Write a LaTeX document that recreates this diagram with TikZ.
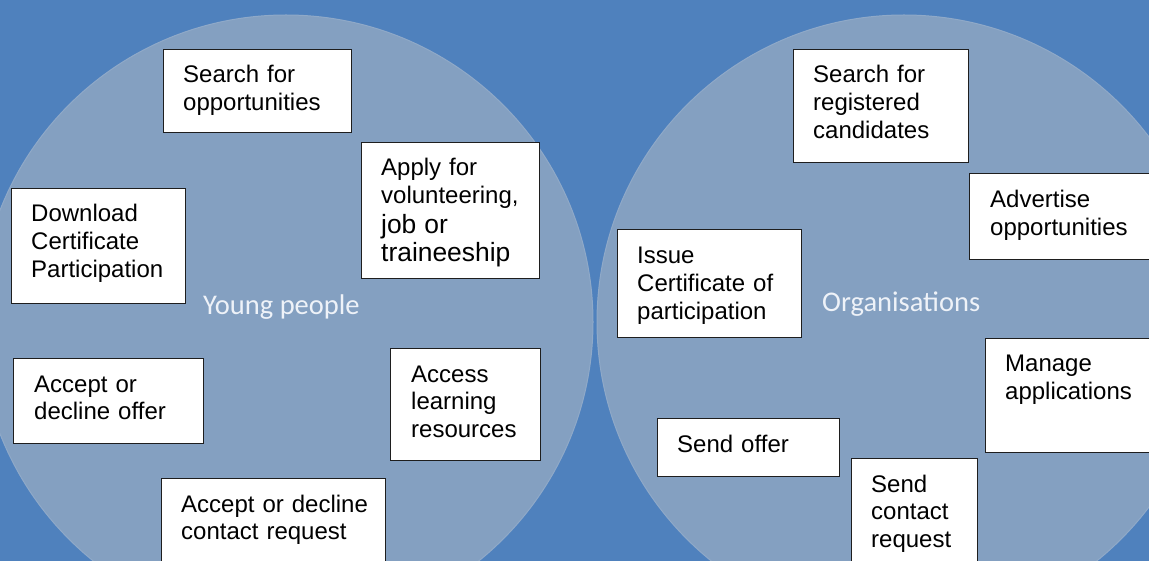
\documentclass[tikz,border=0pt]{standalone}
\usepackage{fontspec}
\setmainfont{Liberation Sans}
\newfontfamily\labelfont{Carlito}
\usetikzlibrary{calc}

\definecolor{bgblue}{HTML}{4F81BD}
\definecolor{discfill}{HTML}{84A0C1}
\definecolor{discedge}{HTML}{8FA9C8}
\definecolor{boxline}{HTML}{1E1E1E}
\definecolor{labeltext}{HTML}{EEF2F8}

\begin{document}
\begin{tikzpicture}[x=1pt,y=-1pt,
  taskbox/.style={draw=boxline, line width=1.1pt, fill=white,
    anchor=north west, inner sep=0pt},
  tasktext/.style={anchor=base west, inner sep=0pt, text width=240pt,
    align=left, text=black, font=\fontsize{24}{27.6}\selectfont},
  setlabel/.style={anchor=base west, inner sep=0pt, text=labeltext,
    font=\labelfont\fontsize{28.5}{32}\selectfont},
  setdisc/.style={fill=discfill, draw=discedge, line width=1pt}]

% page frame and background
\useasboundingbox (0,0) rectangle (1149,561);
\clip (0,0) rectangle (1149,561);
\fill[bgblue] (0,0) rectangle (1149,561);

% the two sets
\filldraw[setdisc] (286,322) circle[radius=307pt];
\filldraw[setdisc] (904,322) circle[radius=307pt];

\node[setlabel] (young) at (203,315) {Young people};
\node[setlabel] (orgs) at (822,312) {Organisations};

% tasks of young people
\node[taskbox, minimum width=188pt, minimum height=83pt]  (so) at (163,49)  {};
\node[taskbox, minimum width=178pt, minimum height=136pt] (ap) at (361,142) {};
\node[taskbox, minimum width=174pt, minimum height=115pt] (dl) at (11,188)  {};
\node[taskbox, minimum width=190pt, minimum height=85pt]  (ao) at (13,358)  {};
\node[taskbox, minimum width=150pt, minimum height=112pt] (ac) at (390,348) {};
\node[taskbox, minimum width=224pt, minimum height=110pt] (ar) at (161,478) {};

\node[tasktext] (sot) at ($(so.north west)+(20,34)$) {Search for\\opportunities};
\node[tasktext] (apt) at ($(ap.north west)+(20,34)$)
  {Apply for\\volunteering,\par\fontsize{26.4}{30.4}\selectfont job or\\traineeship};
\node[tasktext] (dlt) at ($(dl.north west)+(20,34)$) {Download\\Certificate\\Participation};
\node[tasktext] (aot) at ($(ao.north west)+(21,34)$) {Accept or\\decline offer};
\node[tasktext] (act) at ($(ac.north west)+(21,34)$) {Access\\learning\\resources};
\node[tasktext] (art) at ($(ar.north west)+(20,34)$) {Accept or decline\\contact request};

% tasks of organisations
\node[taskbox, minimum width=174.5pt, minimum height=113pt] (sr) at (793,49)  {};
\node[taskbox, minimum width=200pt, minimum height=86pt]    (ad) at (969,173) {};
\node[taskbox, minimum width=184pt, minimum height=108pt]   (ic) at (617,229) {};
\node[taskbox, minimum width=200pt, minimum height=114pt]   (ma) at (985,338) {};
\node[taskbox, minimum width=182pt, minimum height=58pt]    (sf) at (657,418) {};
\node[taskbox, minimum width=126pt, minimum height=120pt]   (sc) at (851,458) {};

\node[tasktext] (srt) at ($(sr.north west)+(20,34)$) {Search for\\registered\\candidates};
\node[tasktext] (adt) at ($(ad.north west)+(21,35)$) {Advertise\\opportunities};
\node[tasktext] (ict) at ($(ic.north west)+(20,35)$) {Issue\\Certificate of\\participation};
\node[tasktext] (mat) at ($(ma.north west)+(20,34)$) {Manage\\applications};
\node[tasktext] (sft) at ($(sf.north west)+(20,34)$) {Send offer};
\node[tasktext] (sct) at ($(sc.north west)+(20,34)$) {Send\\contact\\request};
\end{tikzpicture}
\end{document}
